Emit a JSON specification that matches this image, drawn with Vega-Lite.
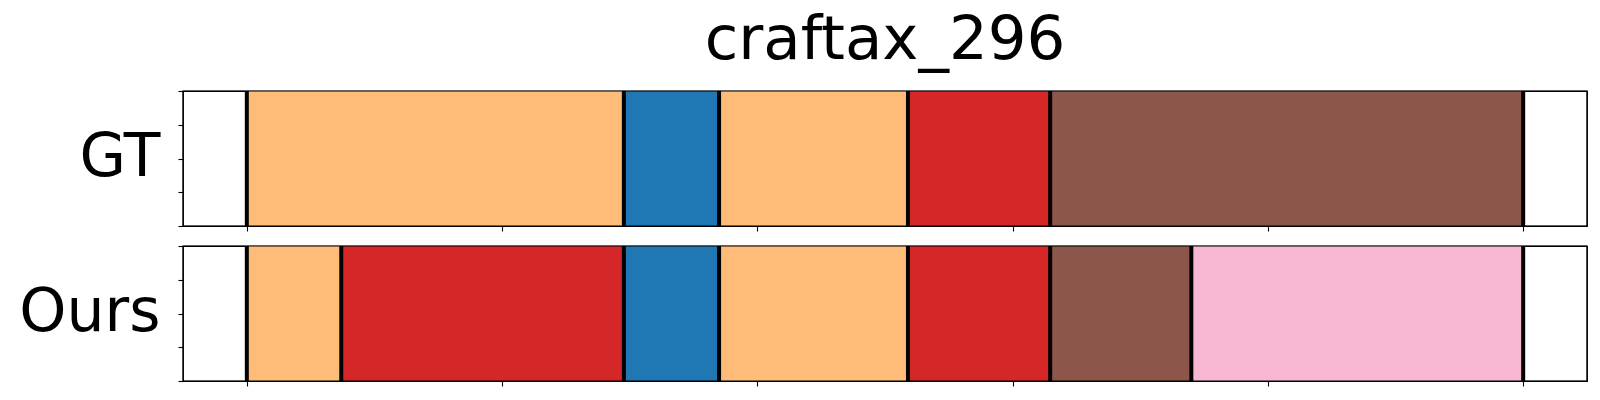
{
  "$schema": "https://vega.github.io/schema/vega-lite/v6.json",
  "background": "white",
  "padding": {"left": 18, "top": 9, "right": 14, "bottom": 5},
  "config": {
    "font": "DejaVu Sans",
    "view": {"stroke": "black", "strokeWidth": 1.2},
    "axis": {"grid": false, "labels": false, "domain": false, "tickColor": "black", "tickSize": 5, "tickWidth": 1.1}
  },
  "datasets": {
    "segments": [
      {"panel": "GT", "start": 0, "end": 147.7, "action": "A"},
      {"panel": "GT", "start": 147.7, "end": 185, "action": "B"},
      {"panel": "GT", "start": 185, "end": 259, "action": "A"},
      {"panel": "GT", "start": 259, "end": 314.7, "action": "C"},
      {"panel": "GT", "start": 314.7, "end": 500, "action": "D"},
      {"panel": "Ours", "start": 0, "end": 37, "action": "A"},
      {"panel": "Ours", "start": 37, "end": 147.7, "action": "C"},
      {"panel": "Ours", "start": 147.7, "end": 185, "action": "B"},
      {"panel": "Ours", "start": 185, "end": 259, "action": "A"},
      {"panel": "Ours", "start": 259, "end": 314.7, "action": "C"},
      {"panel": "Ours", "start": 314.7, "end": 370, "action": "D"},
      {"panel": "Ours", "start": 370, "end": 500, "action": "E"}
    ],
    "bounds": [
      {"panel": "GT", "pos": 0},
      {"panel": "GT", "pos": 147.7},
      {"panel": "GT", "pos": 185},
      {"panel": "GT", "pos": 259},
      {"panel": "GT", "pos": 314.7},
      {"panel": "GT", "pos": 500},
      {"panel": "Ours", "pos": 0},
      {"panel": "Ours", "pos": 37},
      {"panel": "Ours", "pos": 147.7},
      {"panel": "Ours", "pos": 185},
      {"panel": "Ours", "pos": 259},
      {"panel": "Ours", "pos": 314.7},
      {"panel": "Ours", "pos": 370},
      {"panel": "Ours", "pos": 500}
    ],
    "frame": [{"x0": -25, "x1": 525, "y0": 0, "y1": 1}]
  },
  "spacing": 10,
  "vconcat": [
    {
      "width": 1404,
      "height": 135,
      "title": {"text": "craftax_296", "fontSize": 61, "fontWeight": "normal", "font": "DejaVu Sans", "anchor": "middle", "baseline": "alphabetic", "offset": -31, "color": "black"},
      "layer": [
        {
          "data": {"name": "segments"},
          "transform": [{"filter": "datum.panel === 'GT'"}],
          "mark": {"type": "rect"},
          "encoding": {
            "x": {"field": "start", "type": "quantitative", "scale": {"domain": [-25, 525], "nice": false, "zero": false}, "axis": {"values": [0, 100, 200, 300, 400, 500], "title": null}},
            "x2": {"field": "end"},
            "y": {"datum": 0, "type": "quantitative", "scale": {"domain": [0, 1], "nice": false}, "axis": {"values": [0, 0.25, 0.5, 0.75, 1], "title": "GT", "titleFontSize": 60, "titleFontWeight": "normal", "titleAngle": 0, "titleAlign": "right", "titleBaseline": "alphabetic", "titleX": -23, "titleY": 84, "titleColor": "black", "titleFont": "DejaVu Sans"}},
            "y2": {"datum": 1},
            "color": {"field": "action", "type": "nominal", "scale": {"domain": ["A", "B", "C", "D", "E"], "range": ["#ffbb78", "#1f77b4", "#d62728", "#8c564b", "#f7b6d2"]}, "legend": null}
          }
        },
        {
          "data": {"name": "bounds"},
          "transform": [{"filter": "datum.panel === 'GT'"}],
          "mark": {"type": "rule", "color": "black", "strokeWidth": 4},
          "encoding": {
            "x": {"field": "pos", "type": "quantitative"}
          }
        },
        {
          "data": {"name": "frame"},
          "mark": {"type": "rect", "fill": null, "fillOpacity": 0, "stroke": "black", "strokeWidth": 1.2},
          "encoding": {
            "x": {"field": "x0", "type": "quantitative", "axis": {"values": [0, 100, 200, 300, 400, 500], "title": null}},
            "x2": {"field": "x1"},
            "y": {"field": "y0", "type": "quantitative", "axis": {"values": [0, 0.25, 0.5, 0.75, 1], "title": "GT", "titleFontSize": 60, "titleFontWeight": "normal", "titleAngle": 0, "titleAlign": "right", "titleBaseline": "alphabetic", "titleX": -23, "titleY": 84, "titleColor": "black", "titleFont": "DejaVu Sans"}},
            "y2": {"field": "y1"}
          }
        }
      ]
    },
    {
      "width": 1404,
      "height": 135,
      "layer": [
        {
          "data": {"name": "segments"},
          "transform": [{"filter": "datum.panel === 'Ours'"}],
          "mark": {"type": "rect"},
          "encoding": {
            "x": {"field": "start", "type": "quantitative", "scale": {"domain": [-25, 525], "nice": false, "zero": false}, "axis": {"values": [0, 100, 200, 300, 400, 500], "title": null}},
            "x2": {"field": "end"},
            "y": {"datum": 0, "type": "quantitative", "scale": {"domain": [0, 1], "nice": false}, "axis": {"values": [0, 0.25, 0.5, 0.75, 1], "title": "Ours", "titleFontSize": 60, "titleFontWeight": "normal", "titleAngle": 0, "titleAlign": "right", "titleBaseline": "alphabetic", "titleX": -23, "titleY": 84, "titleColor": "black", "titleFont": "DejaVu Sans"}},
            "y2": {"datum": 1},
            "color": {"field": "action", "type": "nominal", "scale": {"domain": ["A", "B", "C", "D", "E"], "range": ["#ffbb78", "#1f77b4", "#d62728", "#8c564b", "#f7b6d2"]}, "legend": null}
          }
        },
        {
          "data": {"name": "bounds"},
          "transform": [{"filter": "datum.panel === 'Ours'"}],
          "mark": {"type": "rule", "color": "black", "strokeWidth": 4},
          "encoding": {
            "x": {"field": "pos", "type": "quantitative"}
          }
        },
        {
          "data": {"name": "frame"},
          "mark": {"type": "rect", "fill": null, "fillOpacity": 0, "stroke": "black", "strokeWidth": 1.2},
          "encoding": {
            "x": {"field": "x0", "type": "quantitative", "axis": {"values": [0, 100, 200, 300, 400, 500], "title": null}},
            "x2": {"field": "x1"},
            "y": {"field": "y0", "type": "quantitative", "axis": {"values": [0, 0.25, 0.5, 0.75, 1], "title": "Ours", "titleFontSize": 60, "titleFontWeight": "normal", "titleAngle": 0, "titleAlign": "right", "titleBaseline": "alphabetic", "titleX": -23, "titleY": 84, "titleColor": "black", "titleFont": "DejaVu Sans"}},
            "y2": {"field": "y1"}
          }
        }
      ]
    }
  ]
}
